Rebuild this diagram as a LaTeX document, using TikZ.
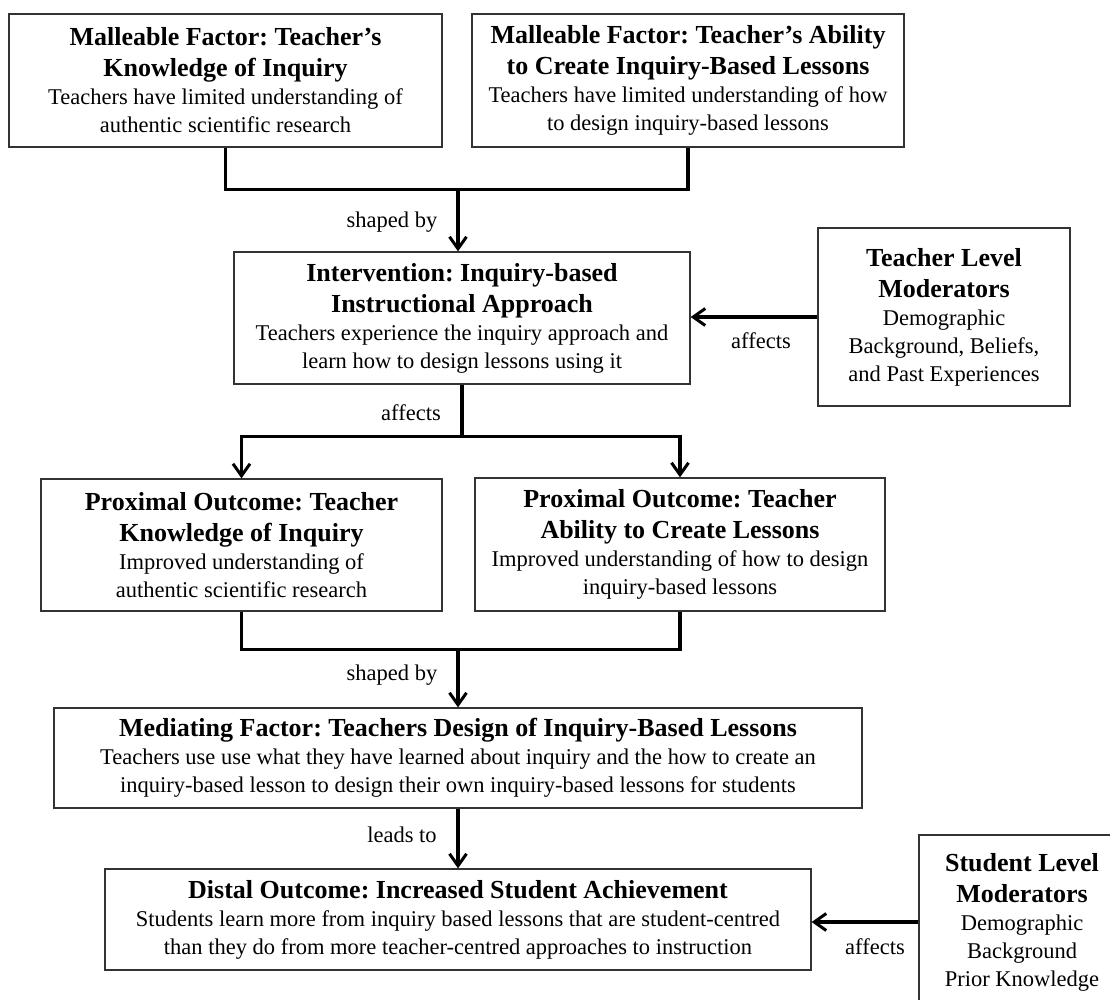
\documentclass[tikz,border=0pt]{standalone}
\usepackage{fontspec}
\setmainfont{Liberation Serif}
\usetikzlibrary{arrows.meta}
\newcommand{\fixspaces}{\spaceskip=\fontdimen2\font\relax\xspaceskip=\fontdimen2\font\relax}
\newcommand{\boxttl}{\fontsize{26}{31}\selectfont\bfseries\fixspaces}
\newcommand{\boxbody}{\fontsize{22.5}{28}\selectfont\fixspaces}
\tikzset{
  nbox/.style={draw=black!80, line width=1.3pt, align=center, inner sep=0pt, fill=white},
  conn/.style={line width=3.2pt, black},
  arr/.style={conn, -{Straight Barb[length=12pt,width=17pt,line width=3pt]}},
  lbl/.style={font=\boxbody, inner sep=0pt}
}
\begin{document}
\begin{tikzpicture}[x=1pt,y=-1pt]
\useasboundingbox[fill=white] (0,0) rectangle (1110,999);

\node[nbox, minimum width=433pt, minimum height=133pt, text width=425pt] (A) at (225.5,80.5)
  {{\boxttl Malleable Factor: Teacher’s\\Knowledge of Inquiry\par}{\boxbody Teachers have limited understanding of\\authentic scientific research\par}};
\node[nbox, minimum width=432pt, minimum height=133pt, text width=424pt] (B) at (688,80.5)
  {{\boxttl Malleable Factor: Teacher’s Ability\\to Create Inquiry-Based Lessons\par}{\boxbody Teachers have limited understanding of how\\to design inquiry-based lessons\par}};
\node[nbox, minimum width=456pt, minimum height=132pt, text width=448pt] (C) at (462,318)
  {{\boxttl Intervention: Inquiry-based\\Instructional Approach\par}{\boxbody Teachers experience the inquiry approach and\\learn how to design lessons using it\par}};
\node[nbox, minimum width=252pt, minimum height=178pt, text width=244pt] (TLM) at (944,317)
  {{\boxttl Teacher Level\\Moderators\par}{\boxbody Demographic\\Background, Beliefs,\\and Past Experiences\par}};
\node[nbox, minimum width=401pt, minimum height=132pt, text width=393pt] (D) at (241.5,545)
  {{\boxttl Proximal Outcome: Teacher\\Knowledge of Inquiry\par}{\boxbody Improved understanding of\\authentic scientific research\par}};
\node[nbox, minimum width=410pt, minimum height=133pt, text width=402pt] (E) at (680,544.5)
  {{\boxttl Proximal Outcome: Teacher\\Ability to Create Lessons\par}{\boxbody Improved understanding of how to design\\inquiry-based lessons\par}};
\node[nbox, minimum width=808pt, minimum height=100pt, text width=800pt] (F) at (458,758)
  {{\boxttl Mediating Factor: Teachers Design of Inquiry-Based Lessons\par}{\boxbody Teachers use use what they have learned about inquiry and the how to create an\\inquiry-based lesson to design their own inquiry-based lessons for students\par}};
\node[nbox, minimum width=706pt, minimum height=101pt, text width=698pt] (G) at (458,919.5)
  {{\boxttl Distal Outcome: Increased Student Achievement\par}{\boxbody Students learn more from inquiry based lessons that are student-centred\\than they do from more teacher-centred approaches to instruction\par}};
\node[nbox, minimum width=206pt, minimum height=174pt, text width=200pt] (SLM) at (1022,922)
  {{\boxttl Student Level\\Moderators\par}{\boxbody Demographic\\Background\\Prior Knowledge\par}};

% top merge
\draw[conn] (A.south) -- ++(0,42) coordinate (j1a) -| (B.south);
\coordinate (j1) at (458,189);
\draw[arr] (j1) -- (j1 |- C.north);
\node[lbl] (l1) at (392,222) {shaped by};

% teacher moderators
\draw[arr] (TLM.west) -- (TLM.west -| C.east);
\node[lbl] (l2) at (761,341) {affects};

% split
\draw[conn] (C.south) -- ++(0,52) coordinate (j2);
\draw[arr] (j2) -| (D.north);
\draw[arr] (j2) -| (E.north);
\node[lbl] (l3) at (411,413) {affects};

% bottom merge
\draw[conn] (D.south) -- ++(0,38) coordinate (j3a) -| (E.south);
\coordinate (j3) at (458,649);
\draw[arr] (j3) -- (j3 |- F.north);
\node[lbl] (l4) at (392,675) {shaped by};

% leads to
\draw[arr] (F.south) -- (G.north);
\node[lbl] (l5) at (402,835) {leads to};

% student moderators
\draw[arr] (SLM.west) -- (SLM.west -| G.east);
\node[lbl] (l6) at (875,947) {affects};
\end{tikzpicture}
\end{document}
